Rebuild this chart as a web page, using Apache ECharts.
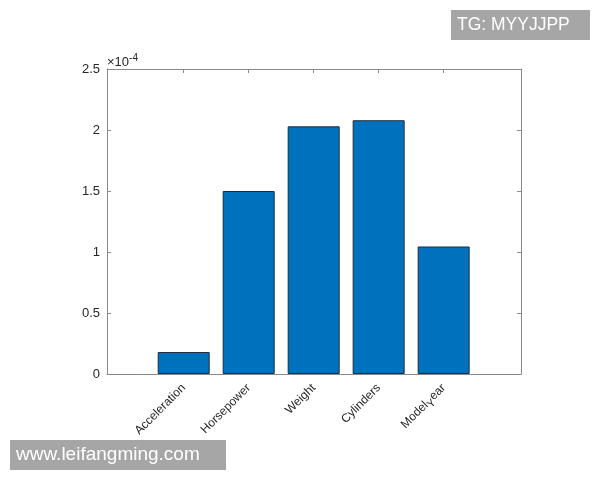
<!DOCTYPE html>
<html>
<head>
<meta charset="utf-8">
<script src="https://cdn.jsdelivr.net/npm/echarts@6/dist/echarts.min.js"></script>
<style>html,body{margin:0;padding:0;background:#fff}#c{width:600px;height:480px}</style>
</head>
<body>
<div id="c"></div>
<script>
// Data (values in units of 1e-4)
const categories = ['Acceleration', 'Horsepower', 'Weight', 'Cylinders', 'Model_Year'];
const values = [0.18, 1.50, 2.03, 2.08, 1.045];
const yTicks = [0, 0.5, 1, 1.5, 2, 2.5];
const positions = categories.map((c, i) => i + 1);

const chart = echarts.init(document.getElementById('c'));
const font = 'Liberation Sans, Arial, sans-serif';
const axisCol = '#8a8a8a';
const textCol = '#262626';

function catLabel(v) {
  const name = categories[Math.round(v) - 1] || '';
  const parts = name.split('_');
  if (parts.length === 2) {
    return parts[0] + '{sub|' + parts[1].charAt(0) + '}' + parts[1].slice(1);
  }
  return name;
}

chart.setOption({
  animation: false,
  backgroundColor: '#fff',
  grid: { left: 107, top: 69, right: 79, bottom: 106, containLabel: false },
  xAxis: [{
    type: 'value', min: -0.18, max: 6.19, position: 'bottom',
    axisLine: { show: true, onZero: false, lineStyle: { color: axisCol, width: 1 } },
    axisTick: { show: true, inside: true, length: 4, customValues: positions, lineStyle: { color: axisCol } },
    axisLabel: {
      show: true, customValues: positions, rotate: 45, margin: 12,
      color: textCol, fontFamily: font, fontSize: 12,
      formatter: catLabel,
      rich: { sub: { fontSize: 11, fontFamily: font, color: textCol, verticalAlign: 'bottom', padding: [8, 0, 0, 0] } }
    },
    splitLine: { show: false }
  }, {
    type: 'value', min: -0.18, max: 6.19, position: 'top',
    axisLine: { show: true, onZero: false, lineStyle: { color: axisCol, width: 1 } },
    axisTick: { show: true, inside: true, length: 4, customValues: positions, lineStyle: { color: axisCol } },
    axisLabel: { show: false },
    splitLine: { show: false }
  }],
  yAxis: [{
    type: 'value', min: 0, max: 2.5, interval: 0.5, position: 'left',
    axisLine: { show: true, onZero: false, lineStyle: { color: axisCol, width: 1 } },
    axisTick: { show: true, inside: true, length: 4, lineStyle: { color: axisCol } },
    axisLabel: { color: textCol, fontFamily: font, fontSize: 13, margin: 7 },
    splitLine: { show: false }
  }, {
    type: 'value', min: 0, max: 2.5, interval: 0.5, position: 'right',
    axisLine: { show: true, onZero: false, lineStyle: { color: axisCol, width: 1 } },
    axisTick: { show: true, inside: true, length: 4, lineStyle: { color: axisCol } },
    axisLabel: { show: false },
    splitLine: { show: false }
  }],
  series: [{
    type: 'bar',
    xAxisIndex: 0, yAxisIndex: 0,
    data: categories.map((c, i) => [positions[i], values[i]]),
    barWidth: 52,
    itemStyle: { color: '#0072BD', borderColor: '#1c2c3c', borderWidth: 1 }
  }],
  graphic: [
    {
      type: 'text', left: 107, top: 53,
      style: {
        text: '×10{sup|-4}', fontFamily: font, fontSize: 13, fill: textCol,
        rich: { sup: { fontSize: 10, fontFamily: font, fill: textCol, verticalAlign: 'top', padding: [0, 0, 8, 0] } }
      }
    },
    {
      type: 'group', left: 451, top: 10,
      children: [
        { type: 'rect', shape: { x: 0, y: 0, width: 139, height: 30 }, style: { fill: '#a6a6a6' } },
        { type: 'text', x: 6, y: 15, style: { text: 'TG: MYYJJPP', fontFamily: font, fontSize: 17.5, fill: '#fff', verticalAlign: 'middle' } }
      ]
    },
    {
      type: 'group', left: 10, top: 440,
      children: [
        { type: 'rect', shape: { x: 0, y: 0, width: 216, height: 30 }, style: { fill: '#a6a6a6' } },
        { type: 'text', x: 6, y: 15, style: { text: 'www.leifangming.com', fontFamily: font, fontSize: 19, fill: '#fff', verticalAlign: 'middle' } }
      ]
    }
  ]
});
</script>
</body>
</html>
